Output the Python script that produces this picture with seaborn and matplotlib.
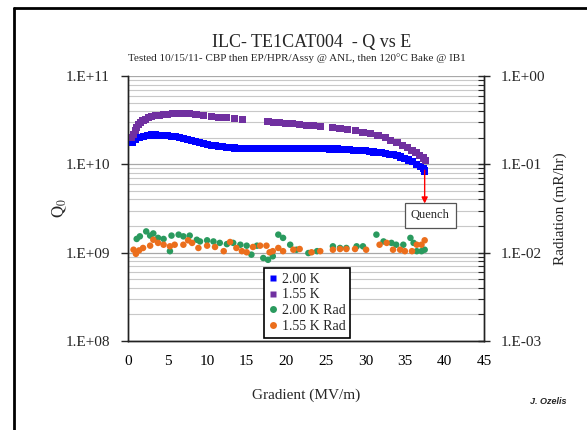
import numpy as np
import pandas as pd
import matplotlib
matplotlib.use('Agg')
import matplotlib.pyplot as plt
import seaborn as sns
from matplotlib.lines import Line2D
from matplotlib.ticker import LogLocator, NullFormatter, MultipleLocator

# 2.00 K  Q0 vs gradient
e_200k = [0.6, 1.0, 1.5, 2.0, 2.5, 3.0, 3.5, 4.0, 4.5, 5.0, 5.5, 6.0, 6.5, 7.0, 7.5, 8.0, 8.5, 9.0,
          9.5, 10.0, 10.5, 11.0, 11.5, 12.0, 12.5, 13.0, 13.5, 14.0, 14.5, 15.0, 15.5, 16.0, 16.5,
          17.0, 17.5, 18.0, 18.5, 19.0, 19.5, 20.0, 20.5, 21.0, 21.5, 22.0, 22.5, 23.0, 23.5, 24.0,
          24.5, 25.0, 25.5, 26.0, 26.5, 27.0, 27.5, 28.0, 28.5, 29.0, 29.5, 30.0, 30.5, 31.0, 31.5,
          32.0, 32.5, 33.0, 33.5, 34.0, 34.5, 35.0, 35.5, 36.0, 36.5, 37.0, 37.3, 37.5]
q_200k = [1.75e10, 1.89e10, 2.00e10, 2.07e10, 2.12e10, 2.15e10, 2.15e10, 2.12e10, 2.11e10, 2.10e10,
          2.08e10, 2.05e10, 2.01e10, 1.97e10, 1.92e10, 1.87e10, 1.82e10, 1.77e10, 1.72e10, 1.68e10,
          1.65e10, 1.62e10, 1.60e10, 1.58e10, 1.56e10, 1.54e10, 1.53e10, 1.52e10, 1.52e10, 1.52e10,
          1.51e10, 1.51e10, 1.51e10, 1.50e10, 1.50e10, 1.50e10, 1.50e10, 1.50e10, 1.50e10, 1.50e10,
          1.50e10, 1.50e10, 1.50e10, 1.50e10, 1.50e10, 1.50e10, 1.50e10, 1.50e10, 1.50e10, 1.50e10,
          1.49e10, 1.49e10, 1.49e10, 1.48e10, 1.47e10, 1.46e10, 1.45e10, 1.44e10, 1.43e10, 1.42e10,
          1.40e10, 1.38e10, 1.37e10, 1.35e10, 1.33e10, 1.30e10, 1.28e10, 1.25e10, 1.21e10, 1.17e10,
          1.12e10, 1.07e10, 1.00e10, 0.94e10, 0.90e10, 0.84e10]

# 1.55 K  Q0 vs gradient
e_155k = [0.5, 0.7, 0.9, 1.1, 1.3, 1.6, 1.9, 2.2, 2.6, 3.0, 3.5, 4.0, 4.5, 5.0, 5.6, 6.3, 7.0,
          7.8, 8.6, 9.5, 10.5, 11.5, 12.5, 13.5, 14.5, 17.7, 18.4, 19.1, 19.9, 20.8, 21.7, 22.6,
          23.5, 24.3, 25.9, 26.8, 27.7, 28.7, 29.7, 30.7, 31.6, 32.5, 33.2, 34.0, 34.7, 35.3, 35.9,
          36.4, 36.9, 37.3, 37.6]
q_155k = [2.0e10, 2.2e10, 2.4e10, 2.6e10, 2.8e10, 2.95e10, 3.1e10, 3.25e10, 3.35e10, 3.45e10,
          3.55e10, 3.6e10, 3.65e10, 3.7e10, 3.75e10, 3.8e10, 3.8e10, 3.75e10, 3.7e10, 3.6e10,
          3.5e10, 3.42e10, 3.35e10, 3.28e10, 3.2e10, 3.05e10, 3.0e10, 2.97e10, 2.93e10, 2.88e10,
          2.83e10, 2.78e10, 2.72e10, 2.68e10, 2.6e10, 2.55e10, 2.48e10, 2.4e10, 2.3e10, 2.22e10,
          2.12e10, 2.0e10, 1.88e10, 1.75e10, 1.62e10, 1.55e10, 1.45e10, 1.35e10, 1.27e10, 1.18e10,
          1.1e10]

# radiation (mR/hr)
e_rad_200k = [1.1, 1.5, 2.3, 2.8, 3.2, 3.8, 4.5, 5.3, 5.5, 6.4, 7.0, 7.8, 8.7, 9.1, 10.0, 10.8,
              11.6, 12.5, 13.3, 14.2, 15.0, 15.6, 16.3, 17.1, 17.7, 18.3, 19.0, 19.6, 20.5, 21.3,
              22.8, 23.9, 25.9, 26.8, 27.6, 28.9, 29.7, 31.4, 32.3, 33.3, 33.9, 34.8, 35.7, 36.1,
              36.5, 37.1, 37.5]
rad_200k = [0.0143, 0.0153, 0.0174, 0.0156, 0.0165, 0.0147, 0.0143, 0.0104, 0.0156, 0.0160,
            0.0153, 0.0156, 0.0140, 0.0134, 0.0138, 0.0134, 0.0129, 0.0125, 0.0129, 0.0123,
            0.0120, 0.0095, 0.0120, 0.0087, 0.0083, 0.0091, 0.0160, 0.0147, 0.0123, 0.0108,
            0.0099, 0.0104, 0.0118, 0.0113, 0.0113, 0.0118, 0.0118, 0.0160, 0.0134, 0.0129,
            0.0123, 0.0123, 0.0147, 0.0129, 0.0104, 0.0104, 0.0108]
e_rad_155k = [0.7, 1.0, 1.4, 1.9, 2.8, 3.2, 3.8, 4.5, 5.3, 5.9, 7.0, 7.6, 8.1, 8.9, 10.0, 11.0,
              12.1, 12.9, 13.7, 14.4, 15.0, 15.8, 16.7, 17.5, 17.9, 18.3, 19.0, 19.6, 20.9, 21.7,
              23.2, 24.3, 25.9, 26.8, 27.6, 28.7, 30.1, 31.8, 32.7, 33.5, 34.4, 35.0, 35.9, 36.5,
              37.1, 37.5]
rad_155k = [0.0108, 0.0097, 0.0106, 0.0113, 0.0120, 0.0140, 0.0129, 0.0123, 0.0118, 0.0123,
            0.0123, 0.0138, 0.0129, 0.0113, 0.0120, 0.0116, 0.0104, 0.0132, 0.0113, 0.0104,
            0.0101, 0.0116, 0.0120, 0.0120, 0.0101, 0.0104, 0.0113, 0.0104, 0.0108, 0.0110,
            0.0101, 0.0104, 0.0108, 0.0110, 0.0110, 0.0110, 0.0108, 0.0123, 0.0129, 0.0108,
            0.0108, 0.0104, 0.0104, 0.0123, 0.0123, 0.0138]

quench_e = 37.5
quench_q = 0.86e10

c_blue = '#0000FF'
c_purple = '#7030A0'
c_green = '#2A9A5E'
c_orange = '#EB6E1C'

sns.set_style('white')
plt.rcParams['font.family'] = ['Liberation Serif', 'DejaVu Serif']
plt.rcParams['mathtext.fontset'] = 'stix'

fig = plt.figure(figsize=(5.87, 4.30), dpi=100)
ax = fig.add_axes([128 / 587, 1 - 341 / 430, 356 / 587, 265 / 430])
ax2 = ax.twinx()

df_q = pd.concat([
    pd.DataFrame({'E': e_200k, 'Q': q_200k, 'series': '2.00 K'}),
    pd.DataFrame({'E': e_155k, 'Q': q_155k, 'series': '1.55 K'}),
])
df_r = pd.concat([
    pd.DataFrame({'E': e_rad_200k, 'R': rad_200k, 'series': '2.00 K Rad'}),
    pd.DataFrame({'E': e_rad_155k, 'R': rad_155k, 'series': '1.55 K Rad'}),
])

sns.scatterplot(data=df_q, x='E', y='Q', hue='series', palette=[c_blue, c_purple],
                marker='s', s=26, linewidth=0, ax=ax, legend=False, zorder=3)
sns.scatterplot(data=df_r, x='E', y='R', hue='series', palette=[c_green, c_orange],
                marker='o', s=22, linewidth=0, ax=ax2, legend=False, zorder=3)

ax.set_yscale('log')
ax2.set_yscale('log')
ax.set_ylim(1e8, 1e11)
ax2.set_ylim(1e-3, 1e0)
ax.set_xlim(0, 45)

# grid on every log minor line
ax.yaxis.set_minor_locator(LogLocator(base=10, subs=np.arange(2, 10), numticks=20))
ax.yaxis.set_minor_formatter(NullFormatter())
ax.grid(False)
ax2.grid(False)
ax.grid(True, which='major', axis='y', color='#a8a8a8', linewidth=0.9)
ax.grid(True, which='minor', axis='y', color='#c8c8c8', linewidth=0.8)
ax.set_axisbelow(True)

ax.set_yticks([1e8, 1e9, 1e10, 1e11])
ax.set_yticklabels(['1.E+08', '1.E+09', '1.E+10', '1.E+11'])
ax2.set_yticks([1e-3, 1e-2, 1e-1, 1e0])
ax2.set_yticklabels(['1.E-03', '1.E-02', '1.E-01', '1.E+00'])
ax2.yaxis.set_minor_locator(LogLocator(base=10, subs=np.arange(2, 10), numticks=20))
ax2.yaxis.set_minor_formatter(NullFormatter())

ax.xaxis.set_major_locator(MultipleLocator(5))
ax.xaxis.set_minor_locator(MultipleLocator(1))

ax.tick_params(axis='x', which='major', direction='inout', length=8, width=1, labelsize=11, pad=6, colors='black')
ax.tick_params(axis='x', which='minor', direction='inout', length=5, width=0.8)
ax.tick_params(axis='y', which='major', direction='out', length=5, width=1, labelsize=11, pad=8)
ax.tick_params(axis='y', which='minor', length=0)
ax2.tick_params(axis='y', which='major', direction='inout', length=8, width=1, labelsize=11, pad=8)
ax2.tick_params(axis='y', which='minor', direction='in', length=4, width=0.8)

for a in (ax, ax2):
    a.spines['top'].set_visible(False)
    for side in ('left', 'right', 'bottom'):
        a.spines[side].set_color('#222222')
        a.spines[side].set_linewidth(1.0)

ax.set_xlabel('Gradient (MV/m)', fontsize=11)
ax.xaxis.set_label_coords(0.5, -0.18)
ax.set_ylabel(r'$\mathrm{Q_0}$', fontsize=12)
ax.yaxis.set_label_coords(-0.165, 0.5)
ax2.set_ylabel('Radiation (mR/hr)', fontsize=11)
ax2.yaxis.set_label_coords(1.195, 0.5)

# quench arrow and box
ax.annotate('', xy=(quench_e, 3.6e9), xytext=(quench_e, quench_q),
            arrowprops=dict(arrowstyle='-|>', color='red', lw=1.0, mutation_scale=9,
                            shrinkA=0, shrinkB=0), zorder=4)
ax.text(38.2, 2.65e9, 'Quench', ha='center', va='center', fontsize=9, zorder=5,
        bbox=dict(boxstyle='square,pad=0.5', facecolor='white', edgecolor='#555555', linewidth=0.9))

# legend
handles = [
    Line2D([0], [0], marker='s', color='none', markerfacecolor=c_blue, markeredgecolor='none', markersize=5, label='2.00 K'),
    Line2D([0], [0], marker='s', color='none', markerfacecolor=c_purple, markeredgecolor='none', markersize=5, label='1.55 K'),
    Line2D([0], [0], marker='o', color='none', markerfacecolor=c_green, markeredgecolor='none', markersize=5, label='2.00 K Rad'),
    Line2D([0], [0], marker='o', color='none', markerfacecolor=c_orange, markeredgecolor='none', markersize=5, label='1.55 K Rad'),
]
leg = ax2.legend(handles=handles, loc='lower left', bbox_to_anchor=(0.383, 0.012), fontsize=10,
                 frameon=True, fancybox=False, framealpha=1, edgecolor='black',
                 handlelength=0.6, handletextpad=0.3, borderpad=0.35, labelspacing=0.2,
                 borderaxespad=0)
leg.get_frame().set_linewidth(1.2)
leg.set_zorder(6)

fig.text(312 / 587, 1 - 42 / 430, 'ILC- TE1CAT004  - Q vs E', ha='center', va='center', fontsize=13)
fig.text(297 / 587, 1 - 58 / 430, 'Tested 10/15/11- CBP then EP/HPR/Assy @ ANL, then 120°C Bake @ IB1',
         ha='center', va='center', fontsize=8)
fig.text(548 / 587, 1 - 402 / 430, 'J. Ozelis', ha='center', va='center', fontsize=6.5,
         family=['Liberation Sans', 'DejaVu Sans'], style='italic', weight='bold')

# outer frame lines (top and left)
fig.add_artist(Line2D([14 / 587, 1.0], [1 - 8 / 430, 1 - 8 / 430], transform=fig.transFigure, color='black', lw=2))
fig.add_artist(Line2D([14 / 587, 14 / 587], [0, 1 - 8 / 430], transform=fig.transFigure, color='black', lw=2))

fig.savefig('out.png', dpi=100)
